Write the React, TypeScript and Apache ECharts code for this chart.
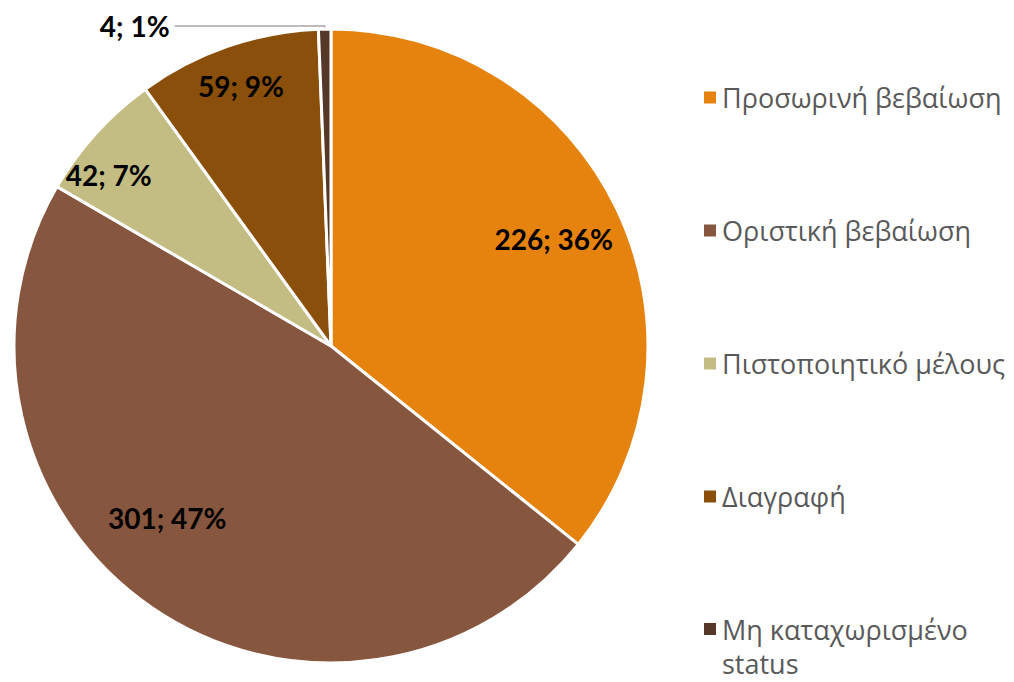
import React, { useEffect, useRef } from 'react';
import * as echarts from 'echarts';

const categories = [
  'Προσωρινή βεβαίωση',
  'Οριστική βεβαίωση',
  'Πιστοποιητικό μέλους',
  'Διαγραφή',
  'Μη καταχωρισμένο status',
];
const values = [226, 301, 42, 59, 4];
const colors = ['#E6830F', '#87563F', '#C3BD84', '#8A4F0B', '#553828'];

export default function App() {
  const ref = useRef<HTMLDivElement>(null);
  useEffect(() => {
    const chart = echarts.init(ref.current!, null, { renderer: 'svg' });
    const center = [331, 346];
    const R = 317;
    const fmt = (p: any) => `${p.value}; ${p.percent}%`;
    const labelBase = {
      color: '#000',
      fontFamily: 'Lato',
      fontWeight: 'bold',
      fontSize: 28,
      formatter: fmt,
    };
    const legendText = {
      color: '#595959',
      fontFamily: 'Open Sans',
      fontSize: 27,
      lineHeight: 35,
    };
    // small nudges that mimic the spreadsheet's own label placement
    const nudge: Record<number, [number, number]> = { 1: [-24, -32], 2: [-18, 14] };
    const overlay = (inner: number, showIdx: number[]) => ({
      type: 'pie',
      center,
      radius: [inner, R],
      percentPrecision: 0,
      silent: true,
      legendHoverLink: false,
      emphasis: { disabled: true },
      itemStyle: { color: 'rgba(0,0,0,0)', borderWidth: 0 },
      labelLine: { show: false },
      labelLayout: (p: any) => {
        const n = nudge[p.dataIndex];
        return n ? { dx: n[0], dy: n[1] } : {};
      },
      data: categories.map((name, i) => ({
        name,
        value: values[i],
        itemStyle: { color: 'rgba(0,0,0,0)' },
        label: { show: showIdx.includes(i), position: 'inside', ...labelBase },
      })),
    });
    const option = {
      animation: false,
      legend: [
        {
          orient: 'vertical',
          left: 697,
          top: 75,
          itemGap: 98,
          itemWidth: 14,
          itemHeight: 14,
          icon: 'rect',
          selectedMode: false,
          data: categories.slice(0, 4),
          textStyle: legendText,
        },
        {
          orient: 'vertical',
          left: 697,
          top: 573,
          itemWidth: 14,
          itemHeight: 14,
          icon: 'rect',
          selectedMode: false,
          data: categories.slice(4),
          formatter: (n: string) => '\n' + n.replace(/ (\S+)$/, '\n$1'),
          textStyle: { ...legendText, lineHeight: 34 },
        },
      ],
      series: [
        {
          type: 'pie',
          center,
          radius: [0, R],
          percentPrecision: 0,
          startAngle: 90,
          clockwise: true,
          emphasis: { disabled: true },
          itemStyle: { borderColor: '#ffffff', borderWidth: 3 },
          labelLine: {
            length: 3,
            length2: 150,
            lineStyle: { color: '#A6A6A6', width: 1.5 },
          },
          data: categories.map((name, i) => ({
            name,
            value: values[i],
            itemStyle: { color: colors[i] },
            label: i === 4 ? { show: true, position: 'outside', ...labelBase } : { show: false },
            labelLine: { show: i === 4 },
          })),
        },
        overlay(171, [0, 1]),
        overlay(228, [2, 3]),
      ],
    };
    chart.setOption(option as any);
    return () => chart.dispose();
  }, []);
  return (
    <div
      ref={ref}
      style={{ position: 'fixed', left: 0, top: 0, width: 1014, height: 682, background: '#fff' }}
    />
  );
}
